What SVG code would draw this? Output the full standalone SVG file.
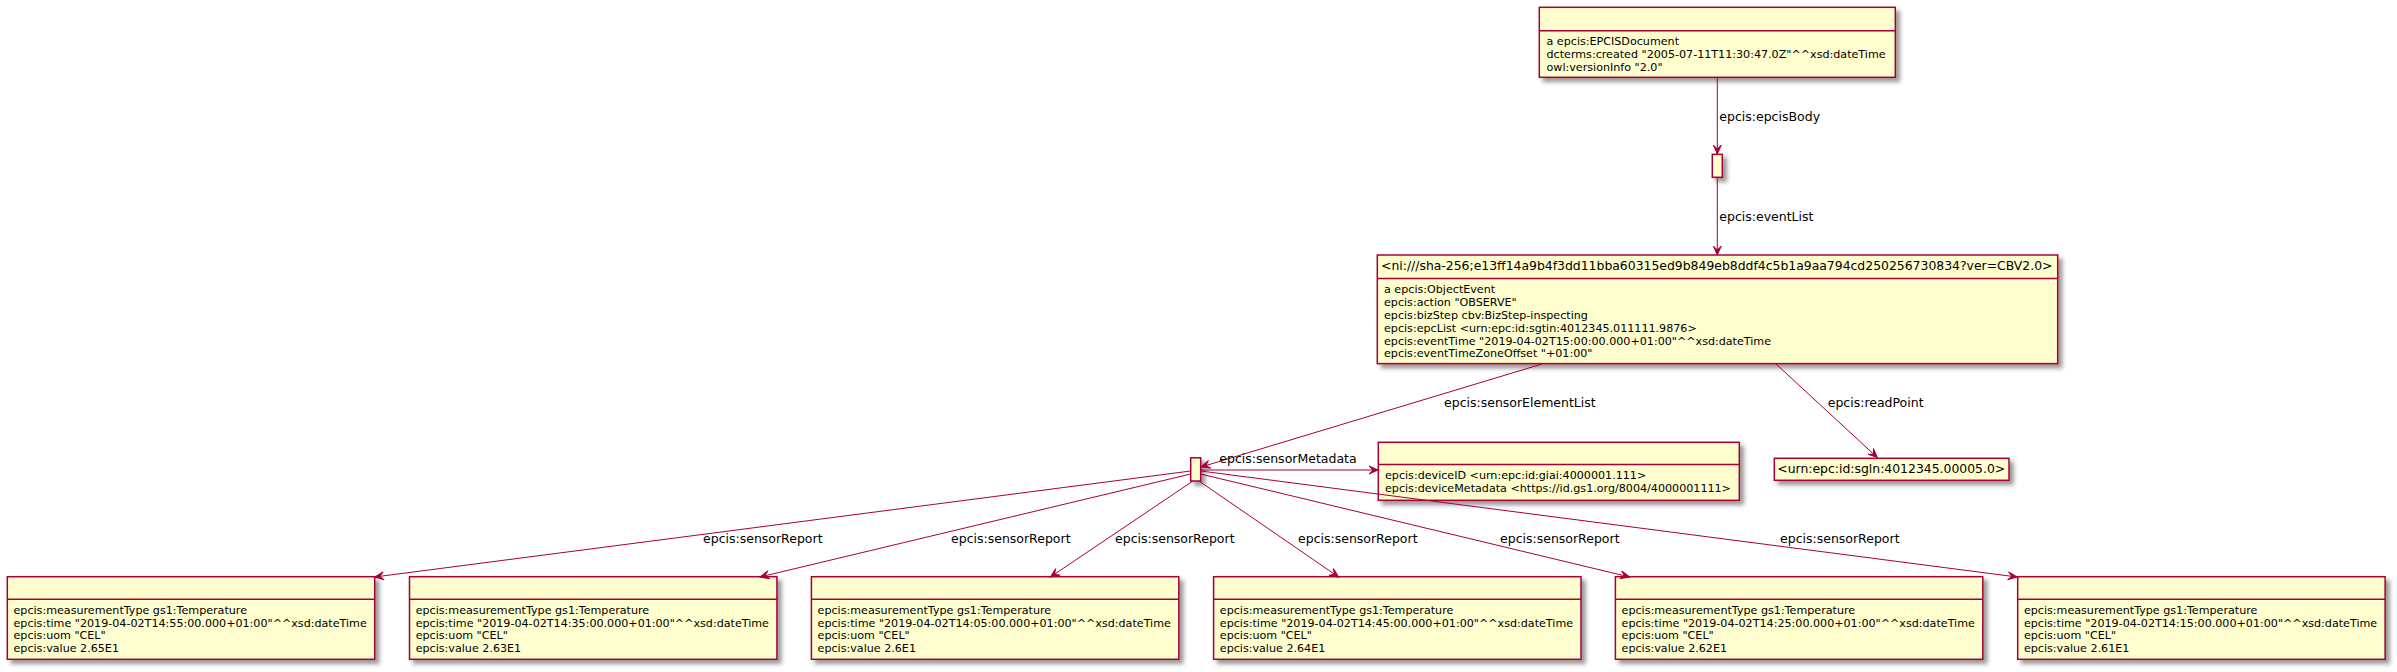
<svg xmlns="http://www.w3.org/2000/svg" width="2397" height="672" viewBox="0 0 2397 672">
<style>
.box{fill:#FEFECE;stroke:#A80036;stroke-width:1.5;filter:url(#sh)}
.sep{stroke:#A80036;stroke-width:1.5}
.attr{font-family:"DejaVu Sans",sans-serif;font-size:11.13px;fill:#000}
.hdr{font-family:"DejaVu Sans",sans-serif;font-size:12.42px;fill:#000}
.lbl{font-family:"DejaVu Sans",sans-serif;font-size:12.5px;fill:#000}
.edge{stroke:#A80036;stroke-width:1;fill:none;marker-end:url(#ah)}
</style>
<defs>
<filter id="sh" x="-1" y="-1" width="300%" height="300%">
<feGaussianBlur result="b1" stdDeviation="2"/>
<feColorMatrix in="b1" result="b2" type="matrix" values="0 0 0 0 0 0 0 0 0 0 0 0 0 0 0 0 0 0 .4 0"/>
<feOffset dx="4" dy="4" in="b2" result="b3"/>
<feBlend in="SourceGraphic" in2="b3" mode="normal"/>
</filter>
<marker id="ah" viewBox="-10 -5 11 10" markerWidth="11" markerHeight="10" refX="0" refY="0" orient="auto" markerUnits="userSpaceOnUse" overflow="visible">
<path d="M0,0 L-9,-4 L-5,0 L-9,4 Z" fill="#A80036" stroke="#A80036" stroke-width="1"/>
</marker>
</defs>
<rect width="2397" height="672" fill="#FFFFFF"/>

<g id="doc">
<rect class="box" x="1539.3" y="7.3" width="356" height="70"/>
<line class="sep" x1="1539.3" y1="30.7" x2="1895.3" y2="30.7"/>
<text class="attr" x="1546.5" y="45.3">a epcis:EPCISDocument</text>
<text class="attr" x="1546.5" y="58.1">dcterms:created "2005-07-11T11:30:47.0Z"^^xsd:dateTime</text>
<text class="attr" x="1546.5" y="70.9">owl:versionInfo "2.0"</text>
</g>

<g id="body">
<rect class="box" x="1712.3" y="154.3" width="10" height="23"/>
</g>

<g id="event">
<rect class="box" x="1377.3" y="255" width="680.4" height="108.6"/>
<line class="sep" x1="1377.3" y1="278.6" x2="2057.7" y2="278.6"/>
<text class="hdr" x="1381" y="270">&lt;ni:///sha-256;e13ff14a9b4f3dd11bba60315ed9b849eb8ddf4c5b1a9aa794cd250256730834?ver=CBV2.0&gt;</text>
<text class="attr" x="1384" y="293.3">a epcis:ObjectEvent</text>
<text class="attr" x="1384" y="306.1">epcis:action "OBSERVE"</text>
<text class="attr" x="1384" y="318.9">epcis:bizStep cbv:BizStep-inspecting</text>
<text class="attr" x="1384" y="331.7">epcis:epcList &lt;urn:epc:id:sgtin:4012345.011111.9876&gt;</text>
<text class="attr" x="1384" y="344.5">epcis:eventTime "2019-04-02T15:00:00.000+01:00"^^xsd:dateTime</text>
<text class="attr" x="1384" y="357.3">epcis:eventTimeZoneOffset "+01:00"</text>
</g>

<g id="readpoint">
<rect class="box" x="1774.3" y="458.3" width="234.7" height="22"/>
<text class="hdr" x="1777.3" y="472.8">&lt;urn:epc:id:sgln:4012345.00005.0&gt;</text>
</g>

<g id="sensorlist">
<rect class="box" x="1190.7" y="457.8" width="10" height="23.2"/>
</g>

<g id="metadata">
<rect class="box" x="1378.3" y="442.3" width="361" height="58"/>
<line class="sep" x1="1378.3" y1="464.5" x2="1739.3" y2="464.5"/>
<text class="attr" x="1385" y="479.3">epcis:deviceID &lt;urn:epc:id:giai:4000001.111&gt;</text>
<text class="attr" x="1385" y="492.1">epcis:deviceMetadata &lt;https://id.gs1.org/8004/4000001111&gt;</text>
</g>

<g id="report1">
<rect class="box" x="7.3" y="576.7" width="367.4" height="82.6"/>
<line class="sep" x1="7.3" y1="599.3" x2="374.7" y2="599.3"/>
<text class="attr" x="13.5" y="613.8">epcis:measurementType gs1:Temperature</text>
<text class="attr" x="13.5" y="626.6">epcis:time "2019-04-02T14:55:00.000+01:00"^^xsd:dateTime</text>
<text class="attr" x="13.5" y="639.4">epcis:uom "CEL"</text>
<text class="attr" x="13.5" y="652.2">epcis:value 2.65E1</text>
</g>
<g id="report2">
<rect class="box" x="409.5" y="576.7" width="367.4" height="82.6"/>
<line class="sep" x1="409.5" y1="599.3" x2="776.9" y2="599.3"/>
<text class="attr" x="415.7" y="613.8">epcis:measurementType gs1:Temperature</text>
<text class="attr" x="415.7" y="626.6">epcis:time "2019-04-02T14:35:00.000+01:00"^^xsd:dateTime</text>
<text class="attr" x="415.7" y="639.4">epcis:uom "CEL"</text>
<text class="attr" x="415.7" y="652.2">epcis:value 2.63E1</text>
</g>
<g id="report3">
<rect class="box" x="811.4" y="576.7" width="367.4" height="82.6"/>
<line class="sep" x1="811.4" y1="599.3" x2="1178.8" y2="599.3"/>
<text class="attr" x="817.6" y="613.8">epcis:measurementType gs1:Temperature</text>
<text class="attr" x="817.6" y="626.6">epcis:time "2019-04-02T14:05:00.000+01:00"^^xsd:dateTime</text>
<text class="attr" x="817.6" y="639.4">epcis:uom "CEL"</text>
<text class="attr" x="817.6" y="652.2">epcis:value 2.6E1</text>
</g>
<g id="report4">
<rect class="box" x="1213.6" y="576.7" width="367.4" height="82.6"/>
<line class="sep" x1="1213.6" y1="599.3" x2="1581" y2="599.3"/>
<text class="attr" x="1219.8" y="613.8">epcis:measurementType gs1:Temperature</text>
<text class="attr" x="1219.8" y="626.6">epcis:time "2019-04-02T14:45:00.000+01:00"^^xsd:dateTime</text>
<text class="attr" x="1219.8" y="639.4">epcis:uom "CEL"</text>
<text class="attr" x="1219.8" y="652.2">epcis:value 2.64E1</text>
</g>
<g id="report5">
<rect class="box" x="1615.4" y="576.7" width="367.4" height="82.6"/>
<line class="sep" x1="1615.4" y1="599.3" x2="1982.8" y2="599.3"/>
<text class="attr" x="1621.6" y="613.8">epcis:measurementType gs1:Temperature</text>
<text class="attr" x="1621.6" y="626.6">epcis:time "2019-04-02T14:25:00.000+01:00"^^xsd:dateTime</text>
<text class="attr" x="1621.6" y="639.4">epcis:uom "CEL"</text>
<text class="attr" x="1621.6" y="652.2">epcis:value 2.62E1</text>
</g>
<g id="report6">
<rect class="box" x="2017.7" y="576.7" width="367.4" height="82.6"/>
<line class="sep" x1="2017.7" y1="599.3" x2="2385.1" y2="599.3"/>
<text class="attr" x="2023.9" y="613.8">epcis:measurementType gs1:Temperature</text>
<text class="attr" x="2023.9" y="626.6">epcis:time "2019-04-02T14:15:00.000+01:00"^^xsd:dateTime</text>
<text class="attr" x="2023.9" y="639.4">epcis:uom "CEL"</text>
<text class="attr" x="2023.9" y="652.2">epcis:value 2.61E1</text>
</g>

<g id="connectors">
<path class="edge" d="M1717.3,77.5 L1717.3,154"/>
<text class="lbl" x="1719.3" y="120.5">epcis:epcisBody</text>
<path class="edge" d="M1717.3,177.5 L1717.3,255"/>
<text class="lbl" x="1719.3" y="221">epcis:eventList</text>
<path class="edge" d="M1542,364 L1201,467"/>
<text class="lbl" x="1444" y="406.7">epcis:sensorElementList</text>
<path class="edge" d="M1776,364 L1877.3,457.5"/>
<text class="lbl" x="1827.7" y="406.7">epcis:readPoint</text>
<path class="edge" d="M1200.7,470 L1378,470"/>
<text class="lbl" x="1219.3" y="463.3">epcis:sensorMetadata</text>
<path class="edge" d="M1190.7,471 L374.7,577"/>
<text class="lbl" x="703" y="543">epcis:sensorReport</text>
<path class="edge" d="M1190.7,474 L760,577"/>
<text class="lbl" x="951" y="543">epcis:sensorReport</text>
<path class="edge" d="M1193,481 L1050.4,577"/>
<text class="lbl" x="1115" y="543">epcis:sensorReport</text>
<path class="edge" d="M1199,481 L1338.6,577"/>
<text class="lbl" x="1298" y="543">epcis:sensorReport</text>
<path class="edge" d="M1200.7,474 L1629.5,577"/>
<text class="lbl" x="1500" y="543">epcis:sensorReport</text>
<path class="edge" d="M1200.7,471 L2017,577"/>
<text class="lbl" x="1780" y="543">epcis:sensorReport</text>
</g>
</svg>
